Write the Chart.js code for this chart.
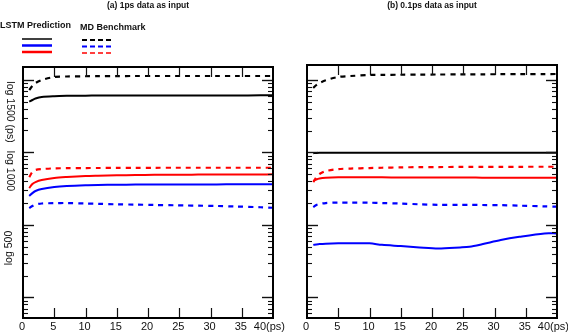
<!DOCTYPE html>
<html><head><meta charset="utf-8">
<script src="https://cdn.jsdelivr.net/npm/chart.js@4.4.1/dist/chart.umd.min.js"></script>
<style>
html,body{margin:0;padding:0;background:#fff;}
#wrap{position:relative;width:568px;height:336px;overflow:hidden;}
canvas{position:absolute;left:0;top:0;}
</style></head><body>
<div id="wrap"><canvas id="ca" width="568" height="336"></canvas><canvas id="cb" width="568" height="336"></canvas></div>
<script>
// ---- data (time in ps, y on a log axis) ----
const TIME = [1, 1.5, 2, 3, 5, 7, 10, 12, 15, 18, 21, 24.5, 26, 28, 31, 34, 38, 40];

// panel (a): 1ps data as input
const lstmBlackA = [499, 526, 552, 579, 594, 600, 604, 605, 606, 606, 607, 607, 608, 608, 609, 609, 610, 611];
const mdBlackA   = [723, 821, 903, 994, 1093, 1110, 1119, 1122, 1125, 1127, 1128, 1128, 1128, 1128, 1128, 1128, 1128, 1128];
const lstmRedA   = [32.2, 36.5, 38.9, 41.5, 44.2, 45.6, 47.1, 47.6, 48.2, 48.6, 48.9, 49.1, 49.2, 49.3, 49.4, 49.5, 49.6, 49.7];
const mdRedA     = [45.6, 53.5, 57.0, 58.8, 60.1, 60.4, 60.7, 60.8, 61.0, 61.1, 61.2, 61.3, 61.3, 61.3, 61.3, 61.3, 61.3, 61.3];
const lstmBlueA  = [25.0, 27.4, 29.3, 31.2, 33.2, 34.3, 35.2, 35.5, 35.7, 35.9, 36.0, 36.0, 36.1, 36.1, 36.1, 36.2, 36.2, 36.2];
const mdBlueA    = [17.05, 18.2, 19.05, 19.7, 19.9, 20.0, 19.7, 19.5, 19.2, 19.0, 18.8, 18.6, 18.5, 18.4, 18.2, 17.9, 17.5, 17.2];

// panel (b): 0.1ps data as input
const lstmBlackB = [97.5, 98.2, 98.5, 98.7, 98.7, 98.7, 98.7, 98.7, 98.7, 98.7, 98.7, 98.7, 98.7, 98.7, 98.7, 98.7, 98.7, 98.7];
const mdBlackB   = [771, 848, 903, 985, 1093, 1128, 1165, 1170, 1175, 1180, 1183, 1187, 1189, 1191, 1194, 1197, 1200, 1202];
const lstmRedB   = [40.2, 42.2, 43.5, 44.5, 45.2, 45.2, 45.2, 45.2, 45.1, 45.0, 45.0, 44.9, 44.9, 44.8, 44.8, 44.7, 44.6, 44.6];
const mdRedB     = [38.9, 45.6, 50.2, 55.2, 58.8, 59.8, 60.7, 61.3, 62.1, 62.5, 62.7, 62.9, 63.0, 63.0, 63.1, 63.2, 63.3, 63.3];
const lstmBlueB  = [5.30, 5.38, 5.44, 5.50, 5.56, 5.58, 5.56, 5.30, 5.10, 4.89, 4.74, 4.89, 4.99, 5.40, 6.18, 6.85, 7.63, 7.63];
const mdBlueB    = [17.6, 18.8, 19.4, 20.0, 20.3, 20.3, 20.2, 20.0, 19.7, 19.2, 18.9, 18.9, 18.9, 18.8, 18.7, 18.4, 18.0, 17.8];

const X_TICKS = [0, 5, 10, 15, 20, 25, 30, 35, 40];
const X_TICK_LABELS = ['0', '5', '10', '15', '20', '25', '30', '35', '40(ps)'];
const Y_LABELS = ['log 1500 (ps)', 'log 1000', 'log 500'];
const TITLES = ['(a) 1ps data as input', '(b) 0.1ps data as input'];
const LEGEND_TITLES = ['LSTM Prediction', 'MD Benchmark'];
const YMIN = 0.52, YMAX_A = 1500, YMAX_B = 1600;

const FONT = '"Liberation Sans", Arial, sans-serif';

function pts(vals) { return TIME.map((t, i) => ({ x: t, y: vals[i] })); }
function ds(vals, color, dashed) {
  return {
    data: pts(vals), borderColor: color, borderWidth: dashed ? 2.2 : 2,
    borderDash: dashed ? [5, 5] : [], pointRadius: 0, tension: 0.3, fill: false
  };
}

function line(ctx, x1, y1, x2, y2) { ctx.beginPath(); ctx.moveTo(x1, y1); ctx.lineTo(x2, y2); ctx.stroke(); }

const framePlugin = {
  id: 'frame',
  afterDatasetsDraw(chart, args, opts) {
    const ctx = chart.ctx;
    const { left, right, top, bottom } = chart.chartArea;
    const x = chart.scales.x, y = chart.scales.y;
    ctx.save();
    ctx.strokeStyle = '#111';
    ctx.lineWidth = 1.2;
    // x ticks (inward, top and bottom)
    X_TICKS.forEach(v => {
      if (v <= x.min || v >= x.max) return;
      const px = Math.round(x.getPixelForValue(v)) + 0.5;
      line(ctx, px, bottom, px, bottom - 10);
      line(ctx, px, top, px, top + 10);
    });
    // y log ticks (inward, left and right)
    for (let e = -1; e <= 3; e++) {
      for (let m = 1; m <= 9; m++) {
        const v = m * Math.pow(10, e);
        if (v < y.min || v > y.max) continue;
        const py = Math.round(y.getPixelForValue(v)) + 0.5;
        const len = m === 1 ? 11 : 5;
        ctx.lineWidth = m === 1 ? 1.4 : 1.1;
        line(ctx, left, py, left + len, py);
        line(ctx, right, py, right - len, py);
      }
    }
    // frame
    ctx.lineWidth = 2;
    ctx.strokeStyle = '#000';
    ctx.strokeRect(left, top, right - left, bottom - top);
    // tick labels
    ctx.fillStyle = '#111';
    ctx.font = '11px ' + FONT;
    ctx.textBaseline = 'middle';
    X_TICKS.forEach((v, i) => {
      const px = x.getPixelForValue(v);
      if (i === X_TICKS.length - 1) { ctx.textAlign = 'right'; ctx.fillText(X_TICK_LABELS[i], px + 12, 327); }
      else { ctx.textAlign = 'center'; ctx.fillText(X_TICK_LABELS[i], px - 1, 327); }
    });
    // title
    ctx.font = 'bold 8.5px ' + FONT;
    ctx.textAlign = 'center';
    ctx.fillText(opts.title, (left + right) / 2, 6);
    // y labels + legend on panel (a)
    if (opts.first) {
      ctx.font = '10.5px ' + FONT;
      const yl = [[Y_LABELS[0], 112, 1], [Y_LABELS[1], 171, 1], [Y_LABELS[2], 248, -1]];
      yl.forEach(([txt, cy, dir]) => {
        ctx.save(); ctx.translate(9.5, cy); ctx.rotate(dir * Math.PI / 2);
        ctx.textAlign = 'center'; ctx.fillText(txt, 0, 0); ctx.restore();
      });
      ctx.font = 'bold 9px ' + FONT;
      ctx.textAlign = 'left';
      ctx.fillText(LEGEND_TITLES[0], 0, 26);
      ctx.fillText(LEGEND_TITLES[1], 80, 28);
      const cols = ['#000', '#0000ff', '#ff0000'];
      cols.forEach((c, i) => {
        ctx.strokeStyle = c; ctx.setLineDash([]);
        ctx.lineWidth = i === 0 ? 1.5 : 2.5;
        line(ctx, 22, 39 + i * 6.5, 52, 39 + i * 6.5);
        ctx.setLineDash([5, 3]);
        ctx.lineWidth = i === 2 ? 1.3 : 2.2;
        line(ctx, 82, 40 + i * 6.5, 113, 40 + i * 6.5);
      });
      ctx.setLineDash([]);
    }
    ctx.restore();
  }
};

function makeChart(id, sets, pad, ymax, title, first) {
  return new Chart(document.getElementById(id), {
    type: 'line',
    data: { datasets: sets },
    options: {
      responsive: false, animation: false, devicePixelRatio: 1,
      layout: { padding: pad },
      plugins: { legend: { display: false }, tooltip: { enabled: false }, frame: { title, first } },
      scales: {
        x: { type: 'linear', min: 0, max: 40, display: false },
        y: { type: 'logarithmic', min: YMIN, max: ymax, display: false }
      }
    },
    plugins: [framePlugin]
  });
}

makeChart('ca', [
  ds(mdBlackA, '#000', true), ds(lstmBlackA, '#000', false),
  ds(mdRedA, '#ff0000', true), ds(lstmRedA, '#ff0000', false),
  ds(lstmBlueA, '#0000ff', false), ds(mdBlueA, '#0000ff', true)
], { left: 23, top: 67, right: 568 - 273, bottom: 336 - 318 }, YMAX_A, TITLES[0], true);

makeChart('cb', [
  ds(mdBlackB, '#000', true), ds(lstmBlackB, '#000', false),
  ds(mdRedB, '#ff0000', true), ds(lstmRedB, '#ff0000', false),
  ds(mdBlueB, '#0000ff', true), ds(lstmBlueB, '#0000ff', false)
], { left: 307, top: 65, right: 568 - 557, bottom: 336 - 318 }, YMAX_B, TITLES[1], false);
</script>
</body></html>
